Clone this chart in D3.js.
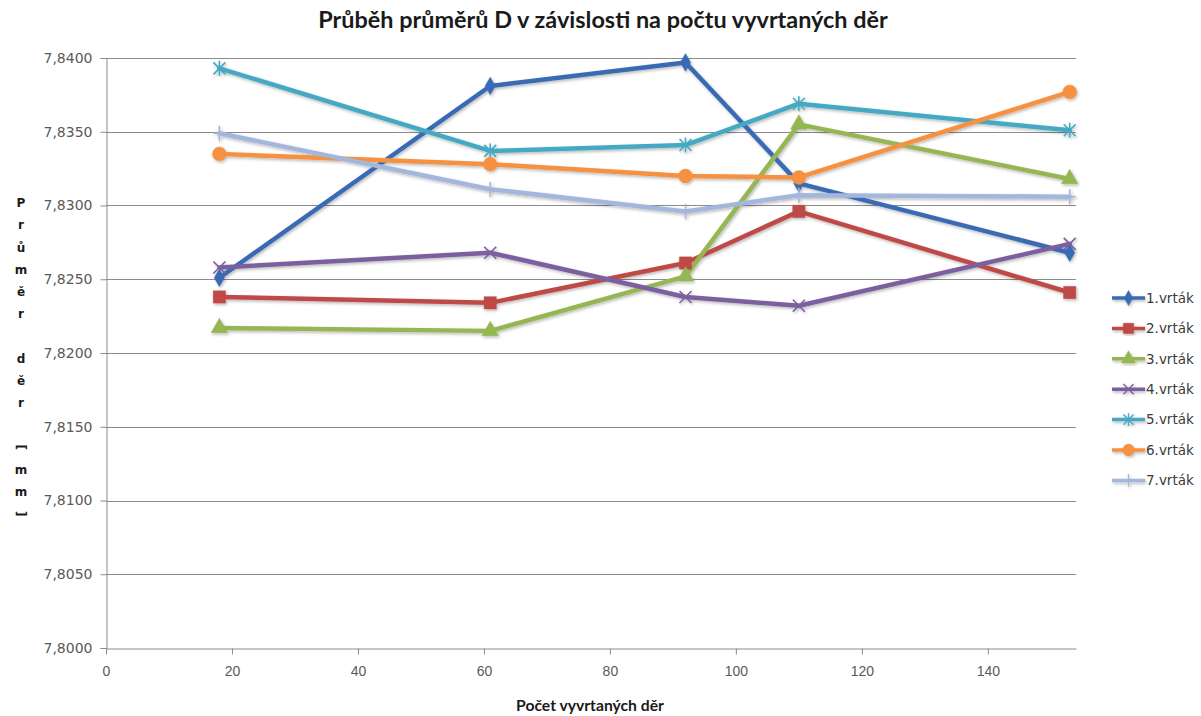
<!DOCTYPE html>
<html>
<head>
<meta charset="utf-8">
<script src="https://cdn.jsdelivr.net/npm/d3@7"></script>
<style>
  html, body { margin: 0; padding: 0; background: #fff; }
  svg { display: block; }
</style>
</head>
<body>
<svg id="chart" width="1201" height="716"></svg>
<script>
// Number of drilled holes at each measurement
const holes = [18, 61, 92, 110, 153];

// Mean hole diameter D [mm] for each drill bit
const drill1 = [7.8251, 7.8381, 7.8397, 7.8315, 7.8268];
const drill2 = [7.8238, 7.8234, 7.8261, 7.8296, 7.8241];
const drill3 = [7.8217, 7.8215, 7.8252, 7.8355, 7.8318];
const drill4 = [7.8258, 7.8268, 7.8238, 7.8232, 7.8274];
const drill5 = [7.8393, 7.8337, 7.8341, 7.8369, 7.8351];
const drill6 = [7.8335, 7.8328, 7.8320, 7.8319, 7.8377];
const drill7 = [7.8349, 7.8311, 7.8296, 7.8307, 7.8306];

const seriesNames = ["1.vrták", "2.vrták", "3.vrták", "4.vrták", "5.vrták", "6.vrták", "7.vrták"];
const seriesValues = [drill1, drill2, drill3, drill4, drill5, drill6, drill7];

const xTicks = [0, 20, 40, 60, 80, 100, 120, 140];
const yTicks = [7.800, 7.805, 7.810, 7.815, 7.820, 7.825, 7.830, 7.835, 7.840];

const titleText = "Průběh průměrů D v závislosti na počtu vyvrtaných děr";
const xTitle = "Počet vyvrtaných děr";
const yTitle = "Průměr děr [mm]";

// ---- styling ----
const colors = ["#3a6bb4", "#be4a47", "#95b752", "#7c5f9e", "#45a9c4", "#f5913f", "#a3b7dc"];
const markers = ["diamond", "square", "triangle", "times", "asterisk", "circle", "plus"];

const svg = d3.select("#chart");
const plot = { left: 106, right: 1076, top: 58, bottom: 648 };

const x = d3.scaleLinear().domain([0, 154]).range([plot.left, plot.right]);
const y = d3.scaleLinear().domain([7.800, 7.840]).range([plot.bottom, plot.top]);

const defs = svg.append("defs");
const shadow = defs.append("filter").attr("id", "soft").attr("x", "-20%").attr("y", "-20%")
  .attr("width", "140%").attr("height", "140%");
shadow.append("feDropShadow").attr("dx", 1.2).attr("dy", 1.6).attr("stdDeviation", 1.4)
  .attr("flood-color", "#000").attr("flood-opacity", 0.28);

const grid = "#8c8c8c";
const fmt = v => d3.format(".4f")(v).replace(".", ",");

// horizontal gridlines
svg.append("g").selectAll("line").data(yTicks.filter(v => v > 7.8)).join("line")
  .attr("x1", plot.left).attr("x2", plot.right)
  .attr("y1", d => Math.round(y(d)) + 0.5).attr("y2", d => Math.round(y(d)) + 0.5)
  .attr("stroke", grid).attr("stroke-width", 1);

// y axis
const yAxis = svg.append("g").attr("transform", `translate(${plot.left + 0.5},0)`)
  .call(d3.axisLeft(y).tickValues(yTicks).tickFormat(fmt).tickSize(6).tickPadding(8));
yAxis.select(".domain").attr("stroke", grid);
yAxis.selectAll(".tick line").attr("stroke", grid);
yAxis.selectAll("text").attr("font-family", "'DejaVu Sans', Verdana, sans-serif")
  .attr("font-size", 14).attr("fill", "#5a5a5a");

// x axis
const xAxis = svg.append("g").attr("transform", `translate(0,${Math.round(plot.bottom) + 0.5})`)
  .call(d3.axisBottom(x).tickValues(xTicks).tickFormat(d3.format("d")).tickSize(6).tickPadding(12).tickSizeOuter(0));
xAxis.select(".domain").attr("stroke", grid);
xAxis.selectAll(".tick line").attr("stroke", grid);
xAxis.selectAll("text").attr("font-family", "'Liberation Sans Narrow', 'Liberation Sans', sans-serif")
  .attr("font-size", 14).attr("fill", "#5a5a5a");

// series lines
const line = d3.line().x((d, i) => x(holes[i])).y(d => y(d));
const seriesG = svg.append("g").attr("filter", "url(#soft)");
seriesValues.forEach((vals, s) => {
  seriesG.append("path").datum(vals).attr("d", line)
    .attr("fill", "none").attr("stroke", colors[s]).attr("stroke-width", 4.5)
    .attr("stroke-linejoin", "round").attr("stroke-linecap", "round");
});

// marker shapes
function markerPath(kind) {
  switch (kind) {
    case "diamond": return d3.symbol(d3.symbolDiamond, 90)();
    case "square": return d3.symbol(d3.symbolSquare, 150)();
    case "triangle": return d3.symbol(d3.symbolTriangle, 120)();
    case "circle": return d3.symbol(d3.symbolCircle, 150)();
    case "times": return "M-6,-6L6,6M-6,6L6,-6";
    case "asterisk": return "M-6,-6L6,6M-6,6L6,-6M0,-7.5L0,7.5";
    case "plus": return "M0,-7.5L0,7.5M-6,0L6,0";
  }
}
function drawMarker(g, kind, color) {
  const p = g.append("path").attr("d", markerPath(kind));
  if (["times", "asterisk", "plus"].includes(kind)) {
    p.attr("fill", "none").attr("stroke", color).attr("stroke-width", 1.6);
  } else {
    p.attr("fill", color).attr("stroke", color).attr("stroke-width", 0.5);
  }
}
seriesValues.forEach((vals, s) => {
  vals.forEach((v, i) => {
    const g = seriesG.append("g").attr("transform", `translate(${x(holes[i])},${y(v)})`);
    drawMarker(g, markers[s], colors[s]);
  });
});

// legend
const legend = svg.append("g").attr("transform", "translate(1112,298)");
seriesNames.forEach((name, s) => {
  const row = legend.append("g").attr("transform", `translate(0,${s * 30.4})`);
  const sym = row.append("g").attr("filter", "url(#soft)");
  sym.append("line").attr("x1", 0).attr("x2", 33).attr("y1", 0).attr("y2", 0)
    .attr("stroke", colors[s]).attr("stroke-width", 3.5);
  const mg = sym.append("g").attr("transform", "translate(16.5,0) scale(0.85)");
  drawMarker(mg, markers[s], colors[s]);
  row.append("text").attr("x", 34).attr("y", 0).attr("dy", "0.35em")
    .attr("font-family", "'DejaVu Sans', Verdana, sans-serif").attr("font-size", 13.5)
    .attr("fill", "#3a3a3a").text(name);
});

// fits a text element to a given width by adjusting its font size
function fitWidth(sel, target) {
  const w = sel.node().getComputedTextLength();
  const fs = parseFloat(sel.attr("font-size"));
  sel.attr("font-size", fs * target / w);
}

// title
const title = svg.append("text").attr("x", 603).attr("y", 28).attr("text-anchor", "middle")
  .attr("font-family", "Lato, 'Open Sans', sans-serif").attr("font-weight", "bold")
  .attr("font-size", 18).attr("fill", "#1a1a1a").text(titleText);
fitWidth(title, 570);

// x axis title
const xt = svg.append("text").attr("x", 590).attr("y", 711).attr("text-anchor", "middle")
  .attr("font-family", "Lato, 'Open Sans', sans-serif").attr("font-weight", "bold")
  .attr("font-size", 13).attr("fill", "#1a1a1a").text(xTitle);
fitWidth(xt, 148);

// y axis title, stacked letter by letter
const yt = svg.append("g").attr("font-family", "'DejaVu Sans', Verdana, sans-serif")
  .attr("font-weight", "bold").attr("font-size", 12).attr("fill", "#1a1a1a");
Array.from(yTitle).forEach((ch, i) => {
  const cy = 203 + i * 22.2;
  const t = yt.append("text").attr("x", 21).attr("y", cy).attr("text-anchor", "middle")
    .attr("dy", "0.35em").text(ch);
  if (ch === "[" || ch === "]") t.attr("transform", `rotate(90,21,${cy})`);
});
</script>
</body>
</html>
